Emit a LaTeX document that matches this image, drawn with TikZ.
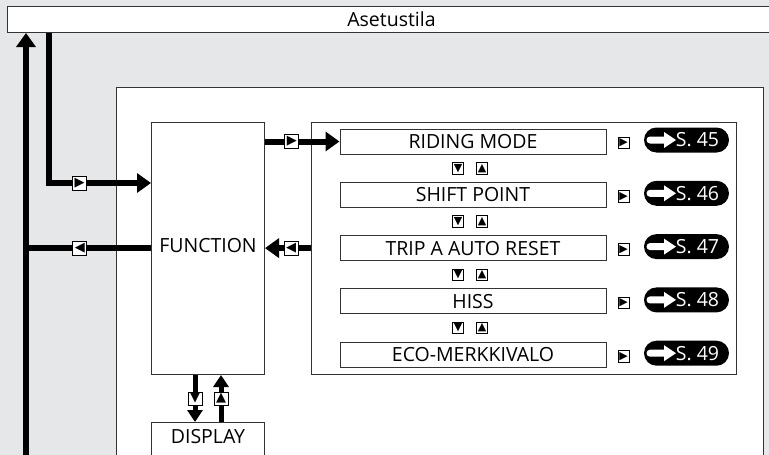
\documentclass[tikz,border=0pt]{standalone}
\usepackage{fontspec}
\setmainfont{Open Sans}
\newfontfamily\symfont{DejaVu Sans}
\usetikzlibrary{arrows.meta, positioning, calc, shapes.misc}

\definecolor{panelgray}{RGB}{230,231,232}

\begin{document}
\begin{tikzpicture}[
  x=1pt, y=-1pt,
  box/.style={draw=black!80, fill=white, line width=1pt, inner sep=0pt,
              font=\fontsize{19.5}{20}\selectfont},
  item/.style={box, minimum width=266pt, minimum height=25pt},
  flow/.style={line width=6pt, -{Triangle[width=19pt,length=14pt]}},
  flowS/.style={line width=5pt, -{Triangle[width=15pt,length=12pt]}},
  link/.style={line width=6pt},
  keybox/.style={draw=black, fill=white, line width=0.8pt, text=black,
                 minimum size=14pt, inner sep=0pt,
                 font=\symfont\fontsize{13}{13}\selectfont},
  keyS/.style={keybox, minimum size=11.5pt, font=\symfont\fontsize{11}{11}\selectfont},
  pill/.style={rounded rectangle, fill=black, text=white, inner sep=0pt,
               minimum width=85pt, minimum height=25pt,
               font=\fontsize{19.5}{20}\selectfont,
               path picture={\fill[white] ($(path picture bounding box.west)+(6pt,3.5pt)$)
                 -- ++(14pt,0pt) -- ++(0pt,4.5pt) -- ++(12pt,-8pt) -- ++(-12pt,-8pt)
                 -- ++(0pt,4.5pt) -- ++(-14pt,0pt) arc (270:90:3.5pt) -- cycle;}},
]
\useasboundingbox (0,0) rectangle (769,455);
\clip (0,0) rectangle (769,455);
\fill[panelgray] (0,0) rectangle (769,455);

% --- frames ---
\node[box, anchor=north west, minimum width=768pt, minimum height=26pt] (mode) at (7,6) {Asetustila};
\node[box, anchor=north west, minimum width=647pt, minimum height=390pt] (setup) at (116,87) {};
\node[box, anchor=north west, minimum width=113pt, minimum height=252pt, text depth=6pt] (func) at (151,122) {FUNCTION};
\node[box, anchor=north west, minimum width=113pt, minimum height=50pt,
      text height=14pt, text depth=22pt] (disp) at (151,422) {DISPLAY};
\node[box, anchor=north west, minimum width=425pt, minimum height=252pt] (menu) at (311,122) {};

% --- menu items ---
\node[item] (r1) at (473,141.5) {RIDING MODE};
\node[item, below=27.3pt of r1] (r2) {SHIFT POINT};
\node[item, below=27.3pt of r2] (r3) {TRIP A AUTO RESET};
\node[item, below=27.3pt of r3] (r4) {HISS};
\node[item, below=27.3pt of r4] (r5) {ECO-MERKKIVALO};

\node[keyS, right=11pt of r1, yshift=-1.5pt] (k1) {▶};
\node[keyS, right=11pt of r2, yshift=-1.5pt] (k2) {▶};
\node[keyS, right=11pt of r3, yshift=-1.5pt] (k3) {▶};
\node[keyS, right=11pt of r4, yshift=-1.5pt] (k4) {▶};
\node[keyS, right=11pt of r5, yshift=-1.5pt] (k5) {▶};

\node[pill, right=14pt of k1, yshift=3pt] (p1) {\hspace*{22pt}S. 45};
\node[pill, right=14pt of k2, yshift=3pt] (p2) {\hspace*{22pt}S. 46};
\node[pill, right=14pt of k3, yshift=3pt] (p3) {\hspace*{22pt}S. 47};
\node[pill, right=14pt of k4, yshift=3pt] (p4) {\hspace*{22pt}S. 48};
\node[pill, right=14pt of k5, yshift=3pt] (p5) {\hspace*{22pt}S. 49};

\node[keyS] (d12) at ($(r1.south)!.5!(r2.north)+(-15,0)$) {▼};
\node[keyS] (u12) at ($(r1.south)!.5!(r2.north)+(9,0)$) {▲};
\node[keyS] (d23) at ($(r2.south)!.5!(r3.north)+(-15,0)$) {▼};
\node[keyS] (u23) at ($(r2.south)!.5!(r3.north)+(9,0)$) {▲};
\node[keyS] (d34) at ($(r3.south)!.5!(r4.north)+(-15,0)$) {▼};
\node[keyS] (u34) at ($(r3.south)!.5!(r4.north)+(9,0)$) {▲};
\node[keyS] (d45) at ($(r4.south)!.5!(r5.north)+(-15,0)$) {▼};
\node[keyS] (u45) at ($(r4.south)!.5!(r5.north)+(9,0)$) {▲};

% --- connectors ---
\coordinate (enter) at (49,183);
\coordinate (back) at (26,460);
\draw[flow] (mode.south -| enter) -- (enter) -- node[keybox, pos=.3] {▶} (enter -| func.west);
\draw[flow] (back) -- (back |- mode.south);
\draw[link] (func.west |- r3) -- node[keybox, pos=.57] {◀} (r3 -| back);
\draw[flow] (func.east |- r1) -- node[keybox, pos=.36] {▶} (r1.west);
\draw[flow] (menu.west |- r3) -- node[keybox, pos=.43] {◀} (r3 -| func.east);
\draw[flowS] ([xshift=-13pt]func.south) -- node[keybox, minimum height=13pt] {▼} ([xshift=-13pt]disp.north);
\draw[flowS] ([xshift=13pt]disp.north) -- node[keybox, minimum height=13pt] {▲} ([xshift=13pt]func.south);

\end{tikzpicture}
\end{document}
